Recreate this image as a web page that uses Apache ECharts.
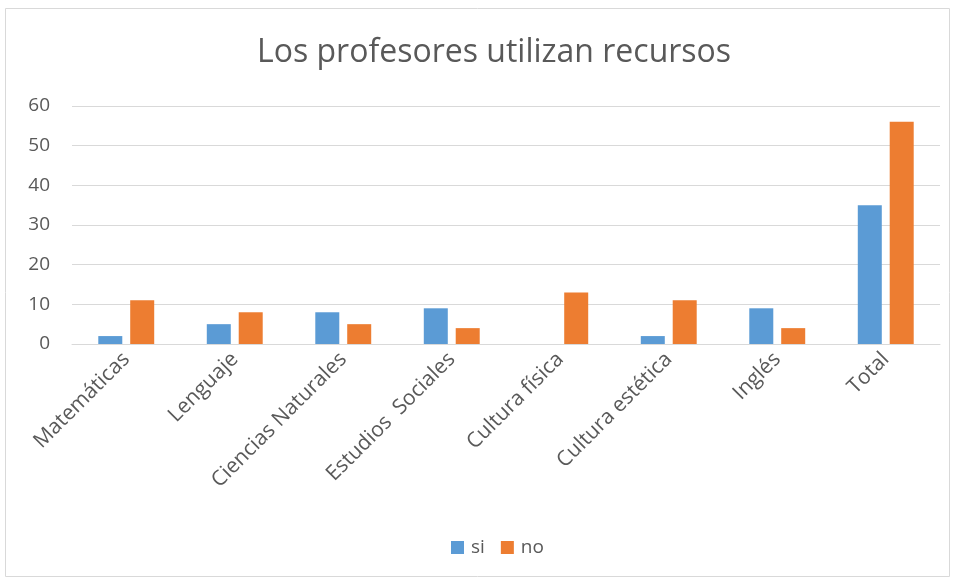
<!DOCTYPE html>
<html><head><meta charset="utf-8">
<script src="https://cdn.jsdelivr.net/npm/echarts@6/dist/echarts.min.js"></script>
<style>html,body{margin:0;padding:0;background:#fff}#c{width:958px;height:580px}</style>
</head><body><div id="c"></div>
<script>
const categories = ['Matemáticas','Lenguaje','Ciencias Naturales','Estudios  Sociales','Cultura física','Cultura estética','Inglés','Total'];
const siValues = [2,5,8,9,0,2,9,35];
const noValues = [11,8,5,4,13,11,4,56];
const yTicks = [0,10,20,30,40,50,60];
const font = '"Open Sans", sans-serif';
const chart = echarts.init(document.getElementById('c'));
chart.setOption({
  animation:false,
  title:{text:'Los profesores utilizan recursos',left:252,top:32,textStyle:{fontFamily:font,fontSize:32,fontWeight:'normal',color:'#595959'}},
  legend:{top:533,left:446,itemWidth:13,itemHeight:13,itemGap:16,icon:'rect',textStyle:{fontFamily:font,fontSize:19,color:'#595959',padding:[0,0,0,2]},data:['si','no']},
  graphic:[{type:'rect',shape:{x:5.5,y:8.5,width:944,height:568},style:{fill:'none',stroke:'#d9d9d9',lineWidth:1},silent:true}],
  grid:{left:72,right:18,top:106,bottom:236},
  xAxis:{type:'category',data:categories,axisTick:{show:false},axisLine:{lineStyle:{color:'#d9d9d9'}},
    axisLabel:{rotate:45,interval:0,fontFamily:font,fontSize:21,color:'#595959',margin:12}},
  yAxis:{type:'value',min:yTicks[0],max:yTicks[yTicks.length-1],interval:10,axisLine:{show:false},axisTick:{show:false},
    splitLine:{lineStyle:{color:'#d9d9d9'}},axisLabel:{fontFamily:font,fontSize:19,color:'#595959',margin:22}},
  series:[
    {name:'si',type:'bar',data:siValues,barWidth:24,barGap:'33%',itemStyle:{color:'#5b9bd5'}},
    {name:'no',type:'bar',data:noValues,barWidth:24,barGap:'33%',itemStyle:{color:'#ed7d31'}}
  ]
});
</script></body></html>
